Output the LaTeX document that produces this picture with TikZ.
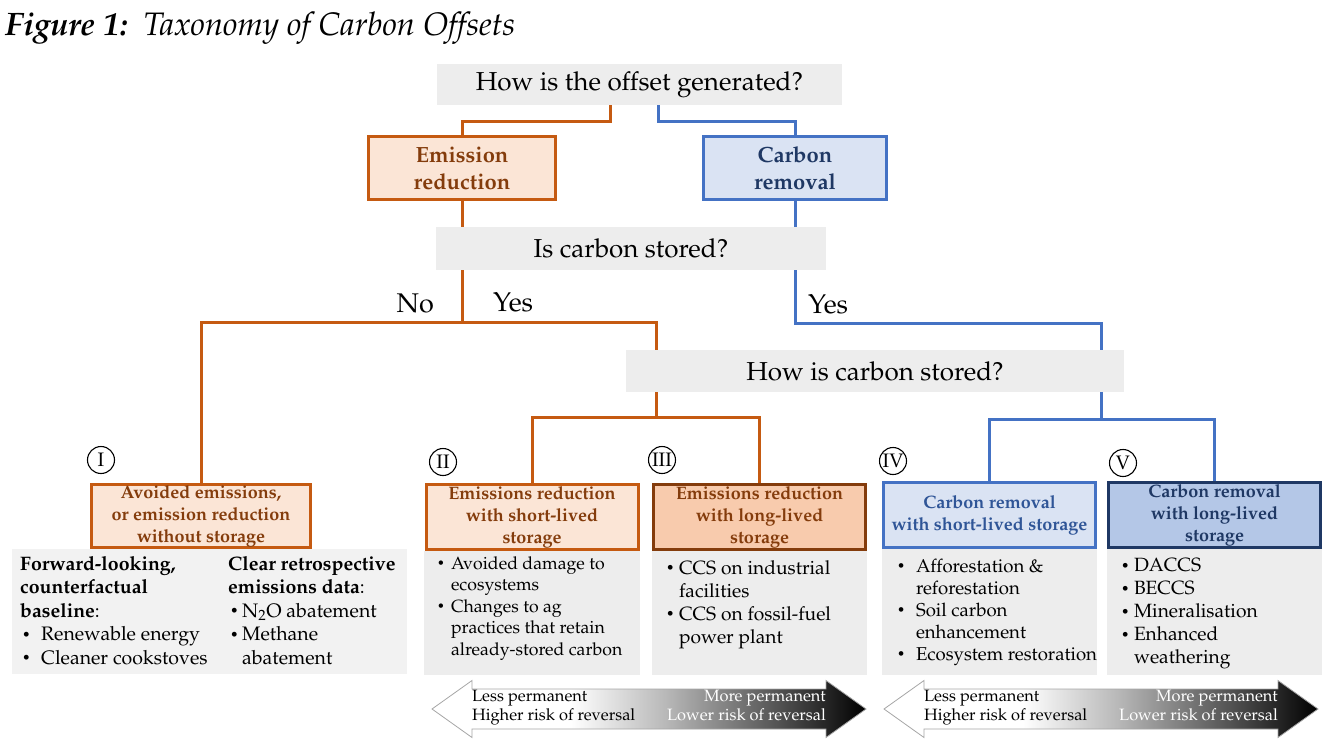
\documentclass[tikz,border=0pt]{standalone}
\usepackage[T1]{fontenc}
\usepackage{mathpazo}
\usepackage{graphicx}
\usepackage{xcolor}
\usetikzlibrary{positioning, backgrounds}

\definecolor{orline}{HTML}{C55A11}
\definecolor{orfill}{HTML}{FBE5D6}
\definecolor{ortext}{HTML}{843C0C}
\definecolor{orfilldk}{HTML}{F8CBAD}
\definecolor{blline}{HTML}{4472C4}
\definecolor{blfill}{HTML}{DAE3F3}
\definecolor{bltext}{HTML}{2F5597}
\definecolor{blfilldk}{HTML}{B4C7E7}
\definecolor{bldark}{HTML}{1F3864}
\definecolor{qgray}{HTML}{EDEDED}
\definecolor{lgray}{HTML}{F2F2F2}

\newcommand{\fs}[2]{\fontsize{#1}{#2}\selectfont}
% bullet line: bullet indent, text indent, text
\newcommand{\itm}[3]{\par\hangindent=#2\hangafter=1\noindent\hspace*{#1}\makebox[\dimexpr#2-#1\relax][l]{\raisebox{0.08em}{\scalebox{0.72}{\textbullet}}}#3\par}

% visible part of an axis shading is 25bp..75bp
\pgfdeclarehorizontalshading{permshade}{100bp}{color(0bp)=(white); color(41bp)=(white); color(52bp)=(black!28); color(65bp)=(black!68); color(75bp)=(black); color(100bp)=(black)}

\begin{document}
\begin{tikzpicture}[x=1pt, y=-1pt,
    every node/.style={font=\fs{19.5}{23.5}},
    question/.style={fill=qgray, minimum width=#1, minimum height=42pt, inner sep=0pt, font=\fs{26}{30}},
    ebox/.style={draw=orline, line width=3pt, fill=orfill, text=ortext, align=center, inner sep=0pt, minimum width=212pt, minimum height=65pt, font=\bfseries\fs{18}{22}},
    cbox/.style={draw=blline, line width=3pt, fill=blfill, text=bltext, align=center, inner sep=0pt, minimum width=212pt, minimum height=65pt, font=\bfseries\fs{18}{22}},
    listbox/.style={fill=qgray, inner sep=0pt},
    num/.style={circle, draw, line width=1.1pt, minimum size=27pt, inner sep=0pt, font=\fs{19.5}{19.5}},
    lbl/.style={inner sep=0pt, font=\fs{27}{30}},
    orl/.style={draw=orline, line width=3pt},
    bll/.style={draw=blline, line width=3pt},
    arrtxt/.style={inner sep=0pt, font=\fs{16.4}{19}},
]
    \useasboundingbox (0,0) rectangle (1327,746);

    \node[anchor=base west, inner sep=0pt, font=\fs{32.5}{36}] (title) at (5,36) {\textbf{\textit{Figure 1:}}\enspace\textit{Taxonomy of Carbon Offsets}};

    % questions and first split
    \node[question=405pt, minimum height=41pt] (q1) at (639.5,84.5) {How is the offset generated?};
    \node[ebox, minimum width=187pt, minimum height=63pt, font=\bfseries\fs{22}{27}] (er) at (462,168) {Emission\\reduction};
    \node[cbox, text=bldark, minimum width=183pt, minimum height=63pt, font=\bfseries\fs{22}{27}] (cr) at (795,168) {Carbon\\removal};
    \node[question=390pt, minimum height=43pt] (q2) at (631,248.5) {Is carbon stored?};
    \node[question=498pt] (q3) at (875,371) {How is carbon stored?};

    % the five categories
    \node[ebox, minimum width=219pt, minimum height=63pt] (b1) at (201,516) {Avoided emissions,\\or emission reduction\\without storage};
    \node[ebox] (b2) at (532,517) {Emissions reduction\\with short-lived\\storage};
    \node[ebox, draw=ortext, fill=orfilldk, line width=3.5pt] (b3) at (759.5,517) {Emissions reduction\\with long-lived\\storage};
    \node[cbox] (b4) at (989.5,515) {Carbon removal\\with short-lived storage};
    \node[cbox, draw=bldark, fill=blfilldk, text=bldark, line width=3.5pt] (b5) at (1214.5,515) {Carbon removal\\with long-lived\\storage};

    \node[num] (n1) at (101,460) {I};
    \node[num] (n2) at (443,462) {II};
    \node[num] (n3) at (662,460) {III};
    \node[num] (n4) at (893,461) {IV};
    \node[num] (n5) at (1123,463) {V};

    % examples under each category
    \node[listbox, fill=lgray, anchor=north west] (l1) at (12,549) {\begin{minipage}[c][125pt][t]{395pt}
        \vspace*{7pt}%
        \hspace*{8pt}\begin{minipage}[t]{208pt}
            \textbf{Forward-looking,}\\\textbf{counterfactual}\\\textbf{baseline}:
            \itm{2pt}{21pt}{Renewable energy}
            \itm{2pt}{21pt}{Cleaner cookstoves}
        \end{minipage}%
        \begin{minipage}[t]{179pt}
            \textbf{Clear retrospective}\\\textbf{emissions data}:
            \itm{2pt}{14pt}{N\textsubscript{2}O abatement}
            \itm{2pt}{14pt}{Methane\\abatement}
        \end{minipage}
    \end{minipage}};
    \node[listbox, below=0pt of b2] (l2) {\begin{minipage}[c][124pt][t]{216pt}\fs{17.7}{21.5}
        \vspace*{5pt}
        \itm{13pt}{27pt}{Avoided damage to\\ecosystems}
        \itm{13pt}{27pt}{Changes to ag\\practices that retain\\already-stored carbon}
    \end{minipage}};
    \node[listbox, below=0pt of b3] (l3) {\begin{minipage}[c][124pt][t]{215pt}\fs{19.2}{23}
        \vspace*{9pt}
        \itm{14pt}{27pt}{CCS on industrial\\facilities}
        \itm{14pt}{27pt}{CCS on fossil-fuel\\power plant}
    \end{minipage}};
    \node[listbox, below=0pt of b4] (l4) {\begin{minipage}[c][126pt][t]{215pt}\fs{18.6}{22}
        \vspace*{9.5pt}
        \itm{15pt}{34pt}{Afforestation \&\\reforestation}
        \itm{15pt}{34pt}{Soil carbon\\enhancement}
        \itm{15pt}{34pt}{Ecosystem restoration}
    \end{minipage}};
    \node[listbox, below=0pt of b5] (l5) {\begin{minipage}[c][126pt][t]{215pt}\fs{19.2}{23}
        \vspace*{9pt}
        \itm{14pt}{27pt}{DACCS}
        \itm{14pt}{27pt}{BECCS}
        \itm{14pt}{27pt}{Mineralisation}
        \itm{14pt}{27pt}{Enhanced\\weathering}
    \end{minipage}};

    % tree lines, behind the grey boxes
    \begin{scope}[on background layer]
        \draw[orl] ([xshift=-29.5pt]q1.south) -- ++(0,16) -| (er.north);
        \draw[bll] ([xshift=18.5pt]q1.south) -- ++(0,16) -| (cr.north);
        \draw[orl] (er.south) -- ++(0,121) coordinate (ejn) -| (b1.north);
        \draw[orl] (ejn) -| ([xshift=31pt]q3.south west) -- ++(0,25) coordinate (sjn) -| (b2.north);
        \draw[orl] (sjn) -| (b3.north);
        \draw[bll] (cr.south) -- ++(0,122) coordinate (cjn) -| ([xshift=-23pt]q3.south east) -- ++(0,27) coordinate (rjn) -| (b4.north);
        \draw[bll] (rjn) -| (b5.north);
    \end{scope}

    \node[lbl, anchor=base east] (nolbl) at ([shift={(-28,-10)}]ejn) {No};
    \node[lbl, anchor=base west] (yeslbl) at ([shift={(31,-11)}]ejn) {Yes};
    \node[lbl, anchor=base west] (yeslbl2) at ([shift={(13,-10)}]cjn) {Yes};

    % permanence scales
    \foreach \ax/\nm in {432/a, 884/b} {
        \shade[shading=permshade, draw=gray!70, line width=0.8pt] (\ax,709) -- ++(40,-28.5) -- ++(0,8.5) -- ++(354,0) -- ++(0,-8.5) -- ++(40,28.5) -- ++(-40,28.5) -- ++(0,-8.5) -- ++(-354,0) -- ++(0,8.5) -- cycle;
        \node[arrtxt, anchor=north west, align=left] (less\nm) at (\ax+40,690) {Less permanent\\Higher risk of reversal};
        \node[arrtxt, anchor=north east, align=right, text=white] (more\nm) at (\ax+394,690) {More permanent\\Lower risk of reversal};
    }
\end{tikzpicture}
\end{document}
